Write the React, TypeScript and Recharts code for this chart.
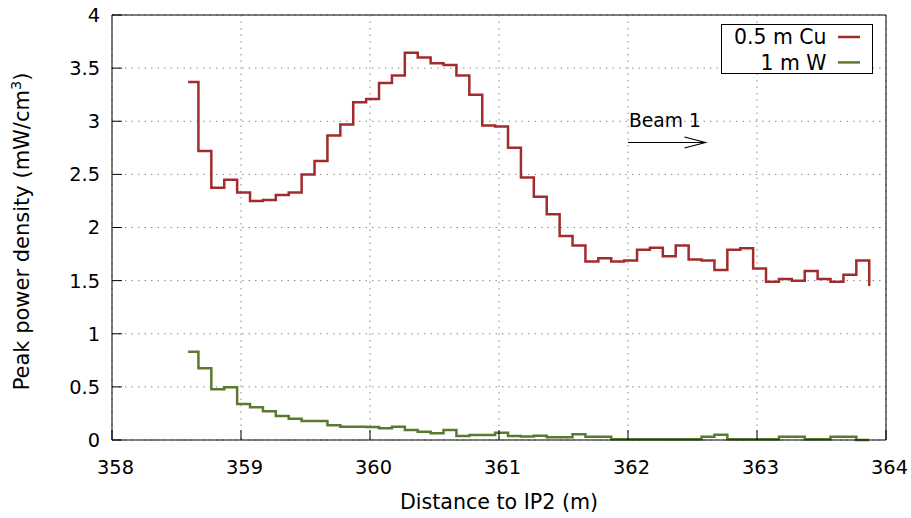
import React from 'react';
import { LineChart, Line, XAxis, YAxis, CartesianGrid, Legend, ReferenceLine } from 'recharts';

// let the chart fill the whole window
if (typeof document !== 'undefined') document.body.style.margin = '0';

// bin edges along the beam line (m); last entry closes the final bin
const distance = [
  358.59, 358.67, 358.77, 358.87, 358.97, 359.07, 359.17, 359.27, 359.37, 359.47,
  359.57, 359.67, 359.77, 359.87, 359.97, 360.07, 360.17, 360.27, 360.37, 360.47,
  360.57, 360.67, 360.77, 360.87, 360.97, 361.07, 361.17, 361.27, 361.37, 361.47,
  361.57, 361.67, 361.77, 361.87, 361.97, 362.07, 362.17, 362.27, 362.37, 362.47,
  362.57, 362.67, 362.77, 362.87, 362.97, 363.07, 363.17, 363.27, 363.37, 363.47,
  363.57, 363.67, 363.77, 363.87,
];

const copper = [
  3.37, 2.72, 2.375, 2.45, 2.33, 2.25, 2.26, 2.305, 2.33, 2.5,
  2.625, 2.865, 2.97, 3.18, 3.21, 3.36, 3.43, 3.645, 3.6, 3.545,
  3.53, 3.43, 3.25, 2.96, 2.95, 2.75, 2.47, 2.29, 2.125, 1.92,
  1.83, 1.68, 1.71, 1.68, 1.69, 1.79, 1.81, 1.73, 1.83, 1.7,
  1.69, 1.6, 1.79, 1.805, 1.615, 1.49, 1.515, 1.5, 1.59, 1.515,
  1.49, 1.555, 1.69, 1.45,
];

const tungsten = [
  0.831, 0.675, 0.477, 0.496, 0.339, 0.308, 0.271, 0.226, 0.2, 0.18,
  0.178, 0.14, 0.125, 0.125, 0.122, 0.11, 0.125, 0.094, 0.078, 0.063,
  0.094, 0.038, 0.047, 0.047, 0.069, 0.038, 0.033, 0.04, 0.025, 0.025,
  0.055, 0.03, 0.03, 0.008, 0.008, 0.008, 0.008, 0.008, 0.008, 0.008,
  0.03, 0.05, 0.008, 0.008, 0.008, 0.008, 0.03, 0.03, 0.008, 0.008,
  0.03, 0.03, 0, 0,
];

const xTicks = [358, 359, 360, 361, 362, 363, 364];
const yTicks = [0, 0.5, 1, 1.5, 2, 2.5, 3, 3.5, 4];

const RED = '#a22b2b';
const GREEN = '#5a7a30';
const FONT = '"DejaVu Sans", sans-serif';

const data = distance.map((d, i) => ({ d, cu: copper[i], w: tungsten[i] }));

const BottomTick = ({ x, y, payload }: any) => (
  <g>
    <line x1={x} y1={y} x2={x} y2={y - 10} stroke="#000" />
    <text x={x + 3.5} y={y + 34} textAnchor="middle" fontSize={19.4} fill="#000">{payload.value}</text>
  </g>
);

const TopTick = ({ x, y }: any) => <line x1={x} y1={y} x2={x} y2={y + 10} stroke="#000" />;

const LeftTick = ({ x, y, payload }: any) => (
  <g>
    <line x1={x} y1={y} x2={x + 10} y2={y} stroke="#000" />
    <text x={x - 12} y={y} dy="0.36em" textAnchor="end" fontSize={19.4} fill="#000">{payload.value}</text>
  </g>
);

const RightTick = ({ x, y }: any) => <line x1={x} y1={y} x2={x - 10} y2={y} stroke="#000" />;

const XTitle = ({ viewBox }: any) => (
  <text x={viewBox.x + viewBox.width / 2} y={viewBox.y + 69} textAnchor="middle" fontSize={20.6} fill="#000">
    Distance to IP2 (m)
  </text>
);

const YTitle = ({ viewBox }: any) => {
  const cx = viewBox.x - 30;
  const cy = viewBox.y + viewBox.height / 2 + 4;
  return (
    <text transform={`translate(${cx},${cy}) rotate(-90)`} textAnchor="middle" dy="0.35em" fontSize={21} fill="#000">
      Peak power density (mW/cm<tspan dy={-8} fontSize={14.5}>3</tspan><tspan dy={8}>)</tspan>
    </text>
  );
};

const LegendBox = ({ payload }: any) => (
  <svg width={152} height={50} style={{ display: 'block', fontFamily: FONT }}>
    <rect x={0.5} y={0.5} width={151} height={49} fill="#fff" stroke="#000" />
    {(payload || []).map((entry: any, i: number) => (
      <g key={entry.value}>
        <text x={105.5} y={13 + i * 25.4} dy="0.36em" textAnchor="end" fontSize={20.4} fill="#000">{entry.value}</text>
        <line x1={117} x2={139} y1={13 + i * 25.4} y2={13 + i * 25.4} stroke={entry.color} strokeWidth={2.5} />
      </g>
    ))}
  </svg>
);

const BeamArrow = ({ x1, y1, x2, y2 }: any) => (
  <g>
    <line x1={x1} y1={y1} x2={x2} y2={y2} stroke="#000" strokeWidth={1.2} />
    <polyline points={`${x2 - 21},${y2 - 5.5} ${x2},${y2} ${x2 - 21},${y2 + 5.5}`} fill="none" stroke="#000" strokeWidth={1.2} />
    <text x={x1 + 1} y={y1 - 16} fontSize={18.7} fill="#000">Beam 1</text>
  </g>
);

export default function App() {
  return (
    <div style={{ fontFamily: FONT, width: 911, height: 518 }}>
      <LineChart width={911} height={518} data={data} margin={{ top: 14, right: 24, bottom: 48, left: 52 }}>
        <CartesianGrid stroke="#8a8a8a" strokeDasharray="1.5 5" />
        <XAxis
          dataKey="d"
          type="number"
          domain={[358, 364]}
          ticks={xTicks}
          interval={0}
          height={30}
          tickSize={0}
          tickMargin={0}
          tick={BottomTick}
          axisLine={{ stroke: '#000' }}
          label={<XTitle />}
        />
        <XAxis
          xAxisId="top"
          orientation="top"
          type="number"
          domain={[358, 364]}
          ticks={xTicks}
          interval={0}
          height={1}
          tickSize={0}
          tickMargin={0}
          tick={TopTick}
          axisLine={{ stroke: '#000' }}
        />
        <YAxis
          type="number"
          domain={[0, 4]}
          ticks={yTicks}
          interval={0}
          width={60}
          tickSize={0}
          tickMargin={0}
          tick={LeftTick}
          axisLine={{ stroke: '#000' }}
          label={<YTitle />}
        />
        <YAxis
          yAxisId="right"
          orientation="right"
          type="number"
          domain={[0, 4]}
          ticks={yTicks}
          interval={0}
          width={1}
          tickSize={0}
          tickMargin={0}
          tick={RightTick}
          axisLine={{ stroke: '#000' }}
        />
        <ReferenceLine
          segment={[{ x: 362, y: 2.8 }, { x: 362.6, y: 2.8 }]}
          shape={BeamArrow}
          ifOverflow="visible"
        />
        <Line
          type="stepAfter"
          dataKey="cu"
          name="0.5 m Cu"
          stroke={RED}
          strokeWidth={2.5}
          dot={false}
          isAnimationActive={false}
        />
        <Line
          type="stepAfter"
          dataKey="w"
          name="1 m W"
          stroke={GREEN}
          strokeWidth={2.5}
          dot={false}
          isAnimationActive={false}
        />
        <Legend
          layout="horizontal"
          verticalAlign="middle"
          align="center"
          content={LegendBox}
          wrapperStyle={{ left: 720.7, top: 24.3, width: 152, height: 50 }}
        />
      </LineChart>
    </div>
  );
}
